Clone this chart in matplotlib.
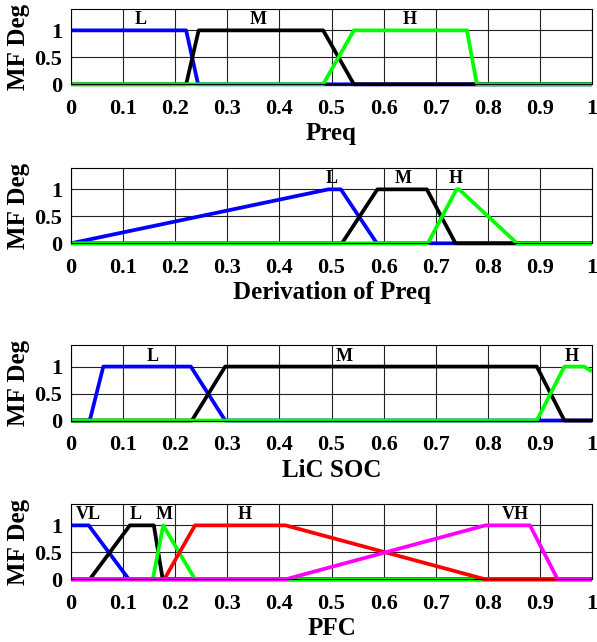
import matplotlib
matplotlib.use('Agg')
import matplotlib.pyplot as plt

plt.rcParams['font.family'] = ['Liberation Serif', 'DejaVu Serif']
plt.rcParams['font.weight'] = 'bold'

# membership functions, breakpoints
# panel 1: Preq
preq_L_x = [0, 0.221, 0.244, 1]
preq_L_y = [1, 1, 0, 0]
preq_M_x = [0, 0.221, 0.245, 0.484, 0.543, 1]
preq_M_y = [0, 0, 1, 1, 0, 0]
preq_H_x = [0, 0.484, 0.543, 0.760, 0.779, 1]
preq_H_y = [0, 0, 1, 1, 0, 0]

# panel 2: derivation of Preq
dpreq_L_x = [0, 0.494, 0.518, 0.587, 1]
dpreq_L_y = [0, 1, 1, 0, 0]
dpreq_M_x = [0, 0.520, 0.588, 0.683, 0.738, 1]
dpreq_M_y = [0, 0, 1, 1, 0, 0]
dpreq_H_x = [0, 0.685, 0.740, 0.745, 0.856, 1]
dpreq_H_y = [0, 0, 1, 1, 0, 0]

# panel 3: LiC SOC
soc_L_x = [0, 0.036, 0.062, 0.230, 0.296, 1]
soc_L_y = [0, 0, 1, 1, 0, 0]
soc_M_x = [0, 0.232, 0.296, 0.894, 0.947, 1]
soc_M_y = [0, 0, 1, 1, 0, 0]
soc_H_x = [0, 0.894, 0.947, 0.985, 1]
soc_H_y = [0, 0, 1, 1, 0.91]

# panel 4: PFC
pfc_VL_x = [0, 0.034, 0.111, 1]
pfc_VL_y = [1, 1, 0, 0]
pfc_L_x = [0, 0.036, 0.113, 0.159, 0.176, 1]
pfc_L_y = [0, 0, 1, 1, 0, 0]
pfc_M_x = [0, 0.157, 0.177, 0.238, 1]
pfc_M_y = [0, 0, 1, 0, 0]
pfc_H_x = [0, 0.179, 0.238, 0.412, 0.795, 1]
pfc_H_y = [0, 0, 1, 1, 0, 0]
pfc_VH_x = [0, 0.412, 0.795, 0.881, 0.934, 1]
pfc_VH_y = [0, 0, 1, 1, 0, 0]

panels = [
    ('Preq', [(preq_L_x, preq_L_y, 'blue'), (preq_M_x, preq_M_y, 'black'), (preq_H_x, preq_H_y, '#00ff00')],
     [('L', 0.133), ('M', 0.36), ('H', 0.65)]),
    ('Derivation of Preq', [(dpreq_L_x, dpreq_L_y, 'blue'), (dpreq_M_x, dpreq_M_y, 'black'), (dpreq_H_x, dpreq_H_y, '#00ff00')],
     [('L', 0.50), ('M', 0.638), ('H', 0.738)]),
    ('LiC SOC', [(soc_L_x, soc_L_y, 'blue'), (soc_M_x, soc_M_y, 'black'), (soc_H_x, soc_H_y, '#00ff00')],
     [('L', 0.157), ('M', 0.524), ('H', 0.962)]),
    ('PFC', [(pfc_VL_x, pfc_VL_y, 'blue'), (pfc_L_x, pfc_L_y, 'black'), (pfc_M_x, pfc_M_y, '#00ff00'),
             (pfc_H_x, pfc_H_y, 'red'), (pfc_VH_x, pfc_VH_y, 'magenta')],
     [('VL', 0.034), ('L', 0.125), ('M', 0.179), ('H', 0.334), ('VH', 0.853)]),
]

xticks = [i / 10 for i in range(11)]
xticklabels = ['0', '0.1', '0.2', '0.3', '0.4', '0.5', '0.6', '0.7', '0.8', '0.9', '1']

W, H = 597, 642
fig = plt.figure(figsize=(W / 100, H / 100), dpi=100)

# axes bottoms in pixels from the top
bottoms = [84.3, 243.3, 420.5, 579.3]
ax_h = 75.5
for (xlabel, curves, labels), b in zip(panels, bottoms):
    ax = fig.add_axes([71 / W, 1 - b / H, 521 / W, ax_h / H])
    for x, y, c in curves:
        ax.plot(x, y, color=c, lw=2.7, clip_on=False, solid_capstyle='butt')
    for t, xpos in labels:
        ax.text(xpos, 1.11, t, ha='center', va='baseline', fontsize=13, fontweight='bold')
    ax.set_xlim(0, 1)
    ax.set_ylim(0, 1.4)
    ax.set_xticks(xticks)
    ax.set_xticklabels(xticklabels)
    ax.set_yticks([0, 0.5, 1])
    ax.set_yticklabels(['0', '0.5', '1'])
    ax.grid(True, color='#222222', lw=0.8)
    ax.set_axisbelow(True)
    ax.tick_params(direction='in', length=0, labelsize=16)
    ax.tick_params(axis='x', pad=10.5)
    ax.tick_params(axis='y', pad=6.5)
    for s in ax.spines.values():
        s.set_linewidth(0.8)
    ax.set_xlabel(xlabel, fontsize=18, fontweight='bold', labelpad=2.5)
    ax.set_ylabel('MF Deg', fontsize=18, fontweight='bold')
    ax.yaxis.set_label_coords(-0.079, 0.5)

fig.savefig('out.png', dpi=100)
